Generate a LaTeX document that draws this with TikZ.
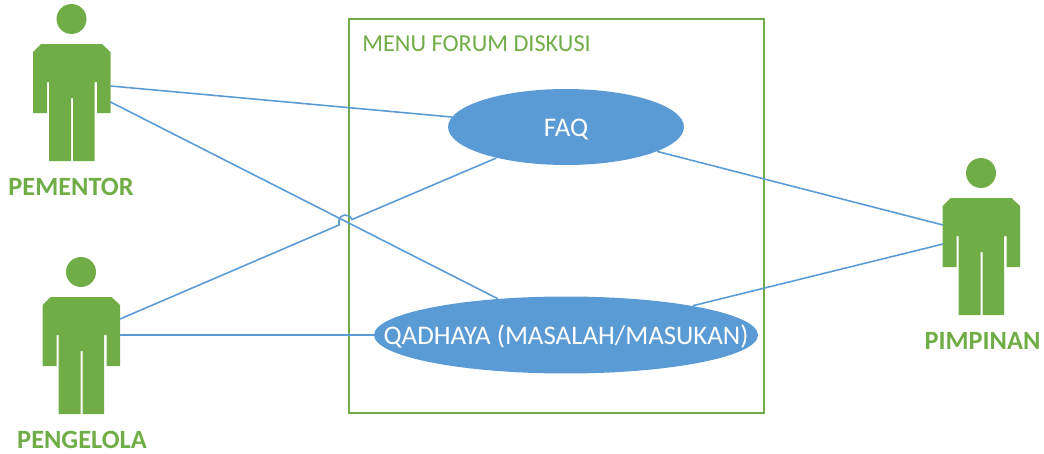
\documentclass[tikz,border=0pt]{standalone}
\usepackage{fontspec}
\setmainfont{Carlito}
\usepackage{tikz}
\usetikzlibrary{positioning}
\usetikzlibrary{shapes.geometric}
\definecolor{actorgreen}{RGB}{112,173,71}
\definecolor{caseblue}{RGB}{91,155,213}
\tikzset{
	usecase/.style={ellipse,fill=caseblue,text=white,inner sep=0pt,text height=12.4pt,text depth=2pt,font=\fontsize{15.3}{18}\selectfont},
	actorlabel/.style={text=actorgreen,font=\fontsize{15}{18}\selectfont\bfseries},
	link/.style={caseblue,line width=0.9pt},
	person/.pic={
		\fill[actorgreen] (71.5,19) circle (15);
		\fill[actorgreen] (41,44) -- (102,44) -- (110.5,52) -- (110.5,113) -- (97,113) -- (97,82) -- (94.5,82) -- (94.5,161) -- (73,161) -- (73,98) -- (71,98) -- (71,161) -- (49,161) -- (49,82) -- (47,82) -- (47,113) -- (33,113) -- (33,52) -- cycle;
		\coordinate (-chest) at (110.5,66);
		\coordinate (-waist) at (110.5,82);
		\coordinate (-upper) at (110.5,86);
		\coordinate (-lower) at (110.5,102);
		\coordinate (-left) at (33.5,71);
		\coordinate (-leftlow) at (33.5,90);
	}
}
\begin{document}
\begin{tikzpicture}[x=0.02cm,y=-0.02cm]
	\useasboundingbox (0,0) rectangle (1044,453);
	\node[draw=actorgreen,line width=1.1pt,minimum width=8.3cm,minimum height=7.88cm,inner sep=0pt] (menu) at (556.5,216) {};
	\node[right,inner sep=0pt,text=actorgreen,font=\fontsize{13.8}{16}\selectfont] (menutitle) at (362,44) {MENU FORUM DISKUSI};
	\pic (pementor) at (0,0) {person};
	\pic (pengelola) at (9.5,253) {person};
	\pic (pimpinan) at (909.5,154) {person};
	\node[actorlabel] (pementorlabel) at (71,187) {PEMENTOR};
	\node[actorlabel] (pengelolalabel) at (82,440) {PENGELOLA};
	\node[actorlabel] (pimpinanlabel) at (982.5,341) {PIMPINAN};
	\node[usecase,minimum width=4.72cm,minimum height=1.52cm] (faq) at (566,127) {FAQ};
	\node[usecase,inner xsep=-1cm,minimum width=7.68cm,minimum height=1.54cm] (qadhaya) at (566,335) {QADHAYA (MASALAH/MASUKAN)};
	% connectors
	\coordinate (jumpin) at (339,225);
	\coordinate (jumpup) at (339,220);
	\coordinate (jumpout) at (352,219.5);
	\draw[link] (pementor-upper) -- (faq.175);
	\draw[link] (pementor-lower) -- (qadhaya.152);
	\draw[link] (pengelola-chest) -- (jumpin) -- (jumpup) .. controls (340,214) and (349,213) .. (jumpout) -- (faq.-156);
	\draw[link] (pengelola-waist) -- (qadhaya.west);
	\draw[link] (faq.-15) -- (pimpinan-left);
	\draw[link] (qadhaya.13) -- (pimpinan-leftlow);
\end{tikzpicture}
\end{document}
